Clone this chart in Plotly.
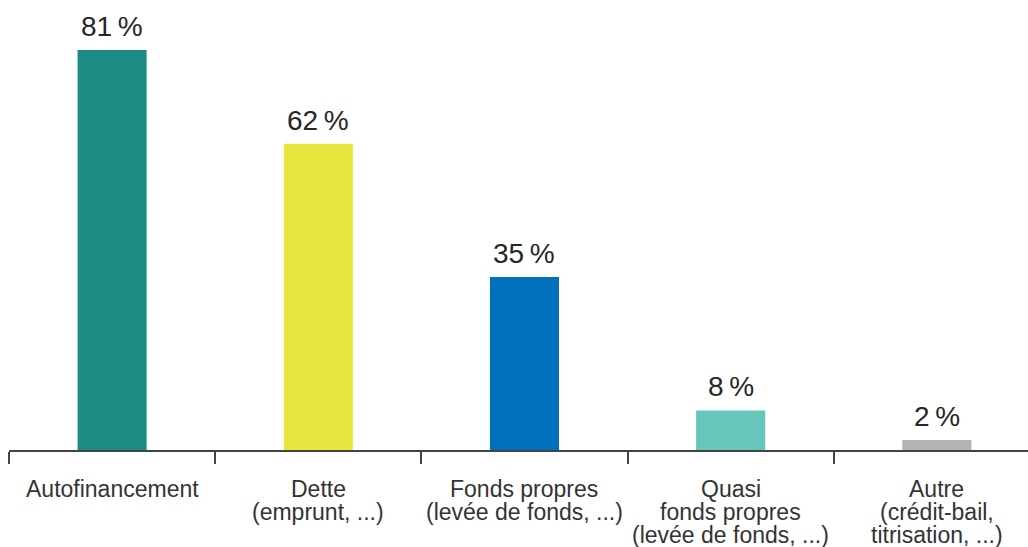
import plotly.graph_objects as go

categories = ["Autofinancement", "Dette\n(emprunt, ...)", "Fonds propres\n(levée de fonds, ...)",
              "Quasi\nfonds propres\n(levée de fonds, ...)", "Autre\n(crédit-bail,\ntitrisation, ...)"]
values = [81, 62, 35, 8, 2]
colors = ["#1E8A84", "#E6E63F", "#0070BA", "#66C6BA", "#B3B3B6"]

labels = [f"{v}\u2009%" for v in values]

fig = go.Figure(go.Bar(
    x=categories, y=values,
    marker=dict(color=colors, line=dict(width=0)),
    width=0.335,
    cliponaxis=False,
    hoverinfo="skip",
))

annotations = []
# value labels above the bars
for cat, v, lab in zip(categories, values, labels):
    annotations.append(dict(x=cat, y=v, xref="x", yref="y", text=lab, showarrow=False,
                            yanchor="bottom", yshift=6,
                            font=dict(family="Liberation Sans", size=28, color="#262626")))
# category labels, one annotation per line for tight line spacing
for cat in categories:
    for i, line in enumerate(cat.split("\n")):
        annotations.append(dict(x=cat, y=0, xref="x", yref="paper", text=line, showarrow=False,
                                yanchor="middle", yshift=-(39 + 23 * i), borderpad=0,
                                font=dict(family="Liberation Sans", size=23, color="#333333")))

fig.update_xaxes(
    type="category", range=[-0.5, 4.442], automargin=False,
    showline=True, linecolor="#444444", linewidth=1.5,
    ticks="outside", tickson="boundaries", ticklen=12, tickwidth=1.5, tickcolor="#444444",
    showticklabels=False, showgrid=False,
)
fig.update_yaxes(range=[0, 91.1], visible=False, showgrid=False, automargin=False)

fig.update_layout(
    width=1028, height=547,
    margin=dict(l=9, r=0, t=0, b=97),
    plot_bgcolor="white", paper_bgcolor="white",
    showlegend=False, annotations=annotations,
)

# drop the default 8px body margin so the figure sits at the page corner
fig.write_html("out.html", config={"displayModeBar": False},
               post_script="document.body.style.margin='0';")
